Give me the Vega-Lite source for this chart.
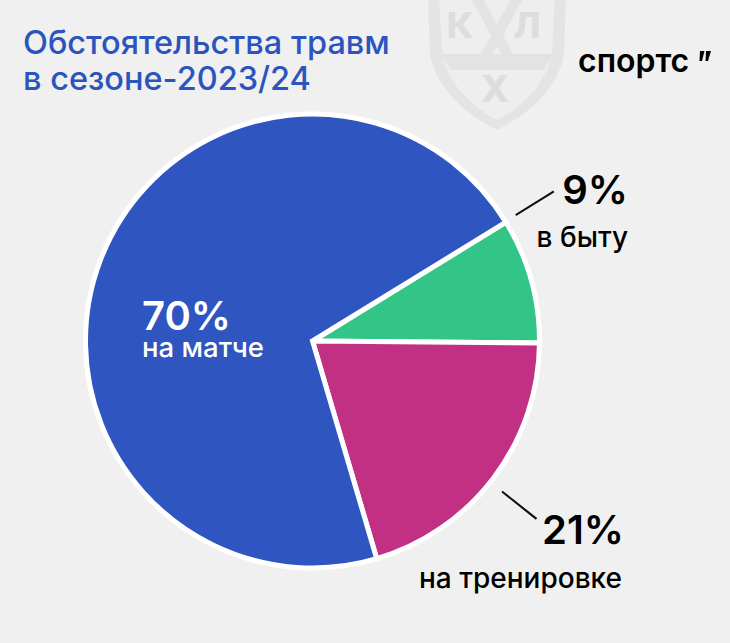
{
"$schema":"https://vega.github.io/schema/vega-lite/v6.json",
"width":730,"height":643,"padding":0,"autosize":{"type":"none"},
"background":"#f0f0f0",
"config":{"view":{"stroke":null}},
"title":{"text":["Обстоятельства травм","в сезоне-2023/24"],"anchor":"start","frame":"group","orient":"top","offset":-101.5,"dx":23,"font":"Inter","fontSize":32.5,"fontWeight":500,"color":"#2b54bd","lineHeight":36},
"data":{"values":[
{"cause":"в быту","label":"9%","share":8.9,"order":1},
{"cause":"на тренировке","label":"21%","share":20.3,"order":2},
{"cause":"на матче","label":"70%","share":70.8,"order":3}
]},
"layer":[
{"mark":{"type":"point","shape":"M -0.69 -0.7 L 0.69 -0.7 L 0.67 -0.1 C 0.6 0.25 0.3 0.5 0 0.65 C -0.3 0.5 -0.6 0.25 -0.67 -0.1 Z","size":40000,"filled":true,"fill":"#e4e4e4","stroke":null,"opacity":1,"xOffset":132,"yOffset":-256.5},"transform":[{"filter":"datum.order==1"}],"encoding":{}},
{"mark":{"type":"point","shape":"M -0.58 -0.7 L 0.58 -0.7 L 0.55 -0.12 C 0.5 0.18 0.25 0.42 0 0.55 C -0.25 0.42 -0.5 0.18 -0.55 -0.12 Z","size":40000,"filled":true,"fill":"#eeeeee","stroke":null,"opacity":1,"xOffset":132,"yOffset":-256.5},"transform":[{"filter":"datum.order==1"}],"encoding":{}},
{"mark":{"type":"point","shape":"M -0.56 -0.11 L 0.56 -0.11 L 0.47 0.05 L -0.47 0.05 Z M -0.28 -0.7 L -0.16 -0.7 L 0.25 0.05 L 0.13 0.05 Z M 0.16 -0.7 L 0.28 -0.7 L -0.13 0.05 L -0.25 0.05 Z","size":40000,"filled":true,"fill":"#e3e3e3","stroke":null,"opacity":1,"xOffset":132,"yOffset":-256.5},"transform":[{"filter":"datum.order==1"}],"encoding":{}},
{"mark":{"type":"text","text":"К","font":"Inter","fontWeight":800,"fontSize":36,"color":"#dddddd","xOffset":95,"yOffset":-283.5,"align":"center","baseline":"alphabetic"},"transform":[{"filter":"datum.order==1"}],"encoding":{}},
{"mark":{"type":"text","text":"Л","font":"Inter","fontWeight":800,"fontSize":36,"color":"#dddddd","xOffset":162,"yOffset":-283.5,"align":"center","baseline":"alphabetic"},"transform":[{"filter":"datum.order==1"}],"encoding":{}},
{"mark":{"type":"text","text":"Х","font":"Inter","fontWeight":800,"fontSize":37,"color":"#dddddd","xOffset":130,"yOffset":-219.5,"align":"center","baseline":"alphabetic"},"transform":[{"filter":"datum.order==1"}],"encoding":{}},
{"mark":{"type":"arc","radius":227,"stroke":"#ffffff","strokeWidth":5,"xOffset":-52.5,"yOffset":19.5},
 "encoding":{
  "theta":{"field":"share","type":"quantitative","stack":true,"scale":{"range":[1.02,7.303]}},
  "order":{"field":"order","type":"quantitative"},
  "color":{"field":"cause","type":"nominal","legend":null,"scale":{"domain":["в быту","на тренировке","на матче"],"range":["#32c587","#c23083","#2e55c0"]}}
 }},
{"mark":{"type":"arc","radius":284,"radius2":239,"theta":1.012,"theta2":1.02,"fill":"#111111","xOffset":-52.5,"yOffset":19.5},"transform":[{"filter":"datum.order==1"}],"encoding":{}},
{"mark":{"type":"arc","radius":286,"radius2":242,"theta":2.238,"theta2":2.246,"fill":"#111111","xOffset":-52.5,"yOffset":19.5},"transform":[{"filter":"datum.order==2"}],"encoding":{}},
{"mark":{"type":"text","font":"Inter","fontWeight":600,"fontSize":40,"color":"#ffffff","align":"left","baseline":"alphabetic","xOffset":-223,"yOffset":8.5},"transform":[{"filter":"datum.order==3"}],"encoding":{"text":{"field":"label"}}},
{"mark":{"type":"text","font":"Inter","fontWeight":500,"fontSize":27.5,"color":"#ffffff","align":"left","baseline":"alphabetic","xOffset":-223,"yOffset":35.5},"transform":[{"filter":"datum.order==3"}],"encoding":{"text":{"field":"cause"}}},
{"mark":{"type":"text","font":"Inter","fontWeight":600,"fontSize":40,"color":"#000000","align":"right","baseline":"alphabetic","xOffset":263,"yOffset":-118},"transform":[{"filter":"datum.order==1"}],"encoding":{"text":{"field":"label"}}},
{"mark":{"type":"text","font":"Inter","fontWeight":500,"fontSize":28,"color":"#000000","align":"right","baseline":"alphabetic","xOffset":263,"yOffset":-75},"transform":[{"filter":"datum.order==1"}],"encoding":{"text":{"field":"cause"}}},
{"mark":{"type":"text","font":"Inter","fontWeight":600,"fontSize":40,"color":"#000000","align":"right","baseline":"alphabetic","xOffset":259,"yOffset":222},"transform":[{"filter":"datum.order==2"}],"encoding":{"text":{"field":"label"}}},
{"mark":{"type":"text","font":"Inter","fontWeight":500,"fontSize":28,"color":"#000000","align":"right","baseline":"alphabetic","xOffset":257,"yOffset":266},"transform":[{"filter":"datum.order==2"}],"encoding":{"text":{"field":"cause"}}},
{"mark":{"type":"text","text":"спортс","font":"Inter","fontWeight":600,"fontSize":32,"color":"#000000","align":"left","baseline":"alphabetic","xOffset":213,"yOffset":-250},"transform":[{"filter":"datum.order==1"}],"encoding":{}},
{"mark":{"type":"point","shape":"M -0.5 -0.5 L -0.05 -0.5 L -0.3 0.5 L -0.55 0.5 Z M 0.1 -0.5 L 0.6 -0.5 L 0.3 0.5 L 0.05 0.5 Z","size":400,"filled":true,"fill":"#000000","stroke":null,"opacity":1,"xOffset":340,"yOffset":-265.5},"transform":[{"filter":"datum.order==1"}],"encoding":{}}
]
}
